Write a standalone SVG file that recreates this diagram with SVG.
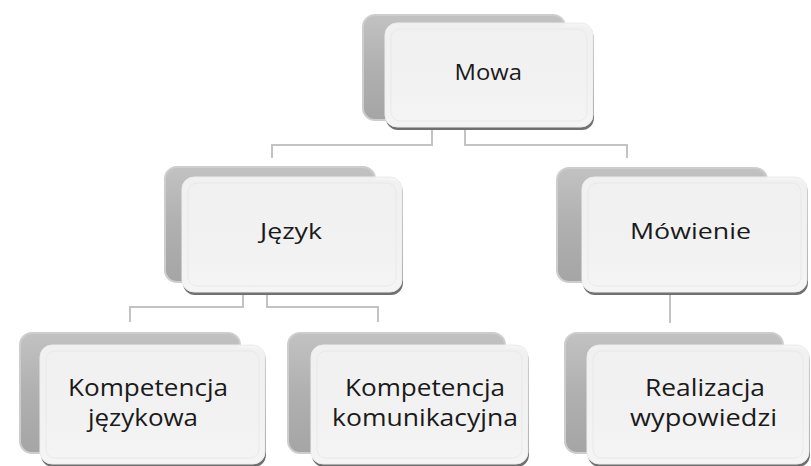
<svg xmlns="http://www.w3.org/2000/svg" width="811" height="466" viewBox="0 0 811 466">
<defs>
<linearGradient id="gBack" x1="0" y1="0" x2="0" y2="1">
<stop offset="0" stop-color="#c2c2c2"/>
<stop offset="0.5" stop-color="#b0b0b0"/>
<stop offset="1" stop-color="#a5a5a5"/>
</linearGradient>
<linearGradient id="gFront" x1="0" y1="0" x2="0" y2="1">
<stop offset="0" stop-color="#f4f4f4"/>
<stop offset="0.6" stop-color="#f8f8f8"/>
<stop offset="1" stop-color="#fdfdfd"/>
</linearGradient>
<linearGradient id="gShadow" x1="0" y1="0" x2="0" y2="1">
<stop offset="0" stop-color="#b5b5b5"/>
<stop offset="1" stop-color="#6f6f6f"/>
</linearGradient>
</defs>
<style>
.back{fill:url(#gBack);stroke:#cdcdcd;stroke-width:2}
.shadow{fill:url(#gShadow)}
.front{fill:url(#gFront);fill-opacity:0.94;stroke:#ececec;stroke-width:1}
.bevel{fill:none;stroke:#e6e6e6;stroke-opacity:0.8;stroke-width:1}
.conn{fill:none;stroke:#c3c3c3;stroke-width:2}
.t{font-family:"Open Sans","Noto Sans","Liberation Sans",sans-serif;fill:#1a1a1a}
.t1{font-size:21px}
.t3{font-size:24px}
</style>
<g id="connectors">
<path class="conn" d="M432,128 V145 H272 V158"/>
<path class="conn" d="M465,128 V145 H627 V158"/>
<path class="conn" d="M243,293 V307 H130 V322"/>
<path class="conn" d="M267,293 V307 H378 V322"/>
<path class="conn" d="M670,293 V323"/>
</g>
<g id="node-mowa">
<rect class="back" x="363" y="15" width="202" height="105" rx="12"/>
<rect class="shadow" x="386" y="26" width="208" height="104" rx="12"/>
<rect class="front" x="385" y="23" width="208" height="104" rx="12"/>
<rect class="bevel" x="391" y="29" width="196" height="92" rx="9"/>
<text class="t t1" x="454.5" y="80" textLength="67.5" lengthAdjust="spacingAndGlyphs">Mowa</text>
</g>
<g id="node-jezyk">
<rect class="back" x="165" y="167" width="210" height="115" rx="12"/>
<rect class="shadow" x="183" y="180" width="220" height="115" rx="12"/>
<rect class="front" x="182" y="177" width="220" height="115" rx="12"/>
<rect class="bevel" x="188" y="183" width="208" height="103" rx="9"/>
<text class="t t1" x="260" y="238.5" textLength="62" lengthAdjust="spacingAndGlyphs">Język</text>
</g>
<g id="node-mowienie">
<rect class="back" x="557" y="168" width="210" height="114" rx="12"/>
<rect class="shadow" x="583" y="180" width="225" height="115" rx="12"/>
<rect class="front" x="582" y="177" width="225" height="115" rx="12"/>
<rect class="bevel" x="588" y="183" width="213" height="103" rx="9"/>
<text class="t t1" x="630" y="238.5" textLength="121" lengthAdjust="spacingAndGlyphs">Mówienie</text>
</g>
<g id="node-kompetencja-jezykowa">
<rect class="back" x="20" y="333" width="220" height="120" rx="12"/>
<rect class="shadow" x="41" y="348" width="225" height="119" rx="12"/>
<rect class="front" x="40" y="345" width="225" height="119" rx="12"/>
<rect class="bevel" x="46" y="351" width="213" height="107" rx="9"/>
<text class="t t3" x="68" y="396" textLength="160" lengthAdjust="spacingAndGlyphs">Kompetencja</text>
<text class="t t3" x="88" y="426" textLength="110" lengthAdjust="spacingAndGlyphs">językowa</text>
</g>
<g id="node-kompetencja-komunikacyjna">
<rect class="back" x="288" y="333" width="217" height="120" rx="12"/>
<rect class="shadow" x="312" y="348" width="217" height="119" rx="12"/>
<rect class="front" x="311" y="345" width="217" height="119" rx="12"/>
<rect class="bevel" x="317" y="351" width="205" height="107" rx="9"/>
<text class="t t3" x="345" y="396" textLength="160" lengthAdjust="spacingAndGlyphs">Kompetencja</text>
<text class="t t3" x="332" y="426" textLength="186" lengthAdjust="spacingAndGlyphs">komunikacyjna</text>
</g>
<g id="node-realizacja-wypowiedzi">
<rect class="back" x="565" y="333" width="218" height="120" rx="12"/>
<rect class="shadow" x="588" y="348" width="222" height="119" rx="12"/>
<rect class="front" x="587" y="345" width="222" height="119" rx="12"/>
<rect class="bevel" x="593" y="351" width="210" height="107" rx="9"/>
<text class="t t3" x="645" y="396" textLength="120" lengthAdjust="spacingAndGlyphs">Realizacja</text>
<text class="t t3" x="630" y="426" textLength="147" lengthAdjust="spacingAndGlyphs">wypowiedzi</text>
</g>
</svg>
